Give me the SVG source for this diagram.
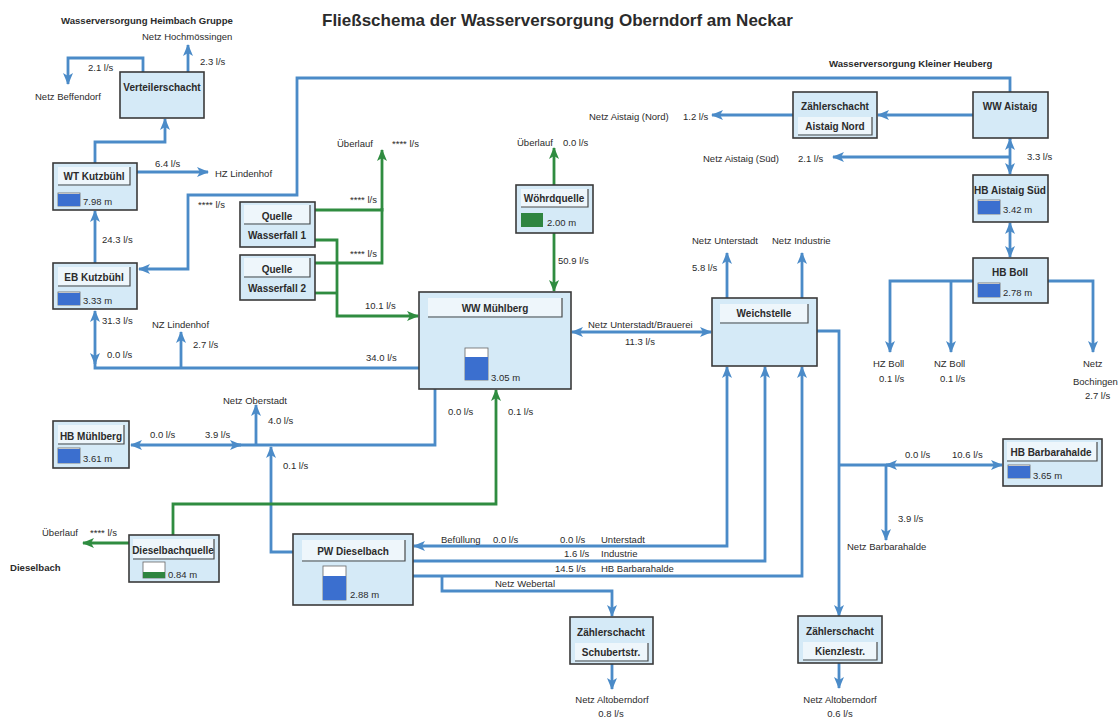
<svg xmlns="http://www.w3.org/2000/svg" width="1120" height="724" viewBox="0 0 1120 724">
<defs>
<marker id="ab" viewBox="0 0 12 10" refX="11" refY="5" markerWidth="12" markerHeight="10" markerUnits="userSpaceOnUse" orient="auto-start-reverse"><path d="M0,0 L12,5 L0,10 L3,5 z" fill="#4b8bc8"/></marker>
<marker id="ag" viewBox="0 0 12 10" refX="11" refY="5" markerWidth="12" markerHeight="10" markerUnits="userSpaceOnUse" orient="auto-start-reverse"><path d="M0,0 L12,5 L0,10 L3,5 z" fill="#2f8c40"/></marker>
</defs>
<style>
text{font-family:"Liberation Sans",Arial,sans-serif;fill:#2b2b2b}
.t{font-size:17px;font-weight:bold}
.h{font-size:9.6px;font-weight:bold}
.l{font-size:9.5px}
.n{font-size:10px;font-weight:bold}
.c{text-anchor:middle}
.box{fill:#d5eaf7;stroke:#3a3a3a;stroke-width:1.6}
.bar{fill:#eef6fb}
.edge{fill:none;stroke:#4a4a4a;stroke-width:1.2}
.lvb{fill:#3b6fcf}
.lvg{fill:#2f8540}
.tank{fill:#ffffff;stroke:#666;stroke-width:0.8}
.b{fill:none;stroke:#4b8bc8;stroke-width:2.8}
.g{fill:none;stroke:#2f8c40;stroke-width:2.8}
.be{marker-end:url(#ab)}
.bs{marker-start:url(#ab)}
.ge{marker-end:url(#ag)}
</style>
<rect width="1120" height="724" fill="#ffffff"/>
<text class="t" x="322" y="26">Fließschema der Wasserversorgung Oberndorf am Neckar</text>

<g id="connectors">
<path class="b be" d="M188,72 V45"/>
<path class="b be" d="M143,72 V58 H68 V84"/>
<path class="b be" d="M95,163 V142 H165 V119"/>
<path class="b be" d="M137,172 H208"/>
<path class="b be" d="M95,263 V211"/>
<path class="b be" d="M1010,92 V78 H297 V195 H188 V269 H139"/>
<path class="b be bs" d="M95,311 V364"/>
<path class="b" d="M95,360 V368 H419"/>
<path class="b be" d="M181,368 V332"/>
<path class="b be bs" d="M131,445 H241"/>
<path class="b" d="M236,445 H435 V389"/>
<path class="b be" d="M256,445 V405"/>
<path class="b be" d="M293,552 H271 V447"/>
<path class="b be bs" d="M572,332 H711"/>
<path class="b be" d="M727,298 V253"/>
<path class="b be" d="M802,298 V253"/>
<path class="b be" d="M817,331 H839 V616"/>
<path class="b" d="M839,465 H890"/>
<path class="b be bs" d="M886,465 H1002"/>
<path class="b be" d="M886,465 V540"/>
<path class="b be bs" d="M727,367 V546 H414"/>
<path class="b be" d="M413,561 H765 V367"/>
<path class="b be" d="M413,576 H802 V367"/>
<path class="b be" d="M442,576 V591 H612 V616"/>
<path class="b be" d="M612,664 V689"/>
<path class="b be" d="M839,663 V688"/>
<path class="b be" d="M1010,115 H878"/>
<path class="b" d="M1010,115 V140"/>
<path class="b be bs" d="M1010,139 V174"/>
<path class="b be" d="M1010,157 H833"/>
<path class="b be" d="M793,115 H712"/>
<path class="b be bs" d="M1010,223 V257"/>
<path class="b be" d="M973,281 H890 V352"/>
<path class="b be" d="M951,281 V352"/>
<path class="b be" d="M1048,281 H1093 V352"/>
<path class="g ge" d="M315,210 H382 V150"/>
<path class="g" d="M315,263 H382 V208"/>
<path class="g ge" d="M315,240 H337 V316 H418"/>
<path class="g" d="M315,293 H337"/>
<path class="g ge" d="M554,185 V148"/>
<path class="g ge" d="M554,233 V291"/>
<path class="g ge" d="M173,535 V504 H496 V390"/>
<path class="g ge" d="M129,543 H83"/>
</g>

<g id="n-verteilerschacht">
<rect class="box" x="120" y="72" width="84" height="46"/>
<text class="n c" x="162" y="91">Verteilerschacht</text>
</g>
<g id="n-wt-kutzbuehl">
<rect class="box" x="53" y="163" width="84" height="47"/>
<rect class="bar" x="58" y="167" width="72" height="17"/>
<path class="edge" d="M58,185 H130 V167"/>
<text class="n c" x="94" y="180">WT Kutzbühl</text>
<rect class="tank" x="58" y="193" width="22" height="13"/>
<rect class="lvb" x="58" y="194" width="22" height="12"/>
<text class="l" x="83" y="205">7.98 m</text>
</g>
<g id="n-eb-kutzbuehl">
<rect class="box" x="53" y="263" width="84" height="46"/>
<rect class="bar" x="58" y="267" width="72" height="18"/>
<path class="edge" d="M58,286 H130 V267"/>
<text class="n c" x="94" y="281">EB Kutzbühl</text>
<rect class="tank" x="58" y="292" width="22" height="13"/>
<rect class="lvb" x="58" y="293" width="22" height="12"/>
<text class="l" x="83" y="304">3.33 m</text>
</g>
<g id="n-quelle-wasserfall-1">
<rect class="box" x="240" y="202" width="75" height="45"/>
<rect class="bar" x="244" y="205" width="66" height="18"/>
<path class="edge" d="M244,224 H310 V205"/>
<text class="n c" x="277" y="220">Quelle</text>
<text class="n c" x="277" y="239">Wasserfall 1</text>
</g>
<g id="n-quelle-wasserfall-2">
<rect class="box" x="240" y="255" width="75" height="45"/>
<rect class="bar" x="244" y="258" width="66" height="18"/>
<path class="edge" d="M244,277 H310 V258"/>
<text class="n c" x="277" y="273">Quelle</text>
<text class="n c" x="277" y="292">Wasserfall 2</text>
</g>
<g id="n-woehrdquelle">
<rect class="box" x="516" y="185" width="77" height="48"/>
<rect class="bar" x="521" y="189" width="67" height="18"/>
<path class="edge" d="M521,207 H588 V189"/>
<text class="n c" x="554" y="202">Wöhrdquelle</text>
<rect class="lvg" x="521" y="213" width="22" height="14"/>
<text class="l" x="547" y="226">2.00 m</text>
</g>
<g id="n-ww-muehlberg">
<rect class="box" x="419" y="292" width="152" height="97"/>
<rect class="bar" x="428" y="298" width="134" height="18"/>
<path class="edge" d="M428,317 H562 V298"/>
<text class="n c" x="495" y="312">WW Mühlberg</text>
<rect class="tank" x="465" y="348" width="23" height="32"/>
<rect class="lvb" x="465" y="357" width="23" height="23"/>
<text class="l" x="491" y="381">3.05 m</text>
</g>
<g id="n-weichstelle">
<rect class="box" x="712" y="298" width="105" height="68"/>
<rect class="bar" x="720" y="304" width="88" height="18"/>
<path class="edge" d="M720,323 H808 V304"/>
<text class="n c" x="764" y="317">Weichstelle</text>
</g>
<g id="n-pw-dieselbach">
<rect class="box" x="293" y="534" width="120" height="71"/>
<rect class="bar" x="302" y="540" width="103" height="20"/>
<path class="edge" d="M302,561 H405 V540"/>
<text class="n c" x="353" y="555">PW Dieselbach</text>
<rect class="tank" x="323" y="566" width="23" height="34"/>
<rect class="lvb" x="323" y="576" width="23" height="24"/>
<text class="l" x="350" y="598">2.88 m</text>
</g>
<g id="n-hb-muehlberg">
<rect class="box" x="53" y="421" width="76" height="47"/>
<rect class="bar" x="58" y="425" width="66" height="18"/>
<path class="edge" d="M58,444 H124 V425"/>
<text class="n c" x="91" y="440">HB Mühlberg</text>
<rect class="tank" x="58" y="448" width="22" height="15"/>
<rect class="lvb" x="58" y="449" width="22" height="14"/>
<text class="l" x="83" y="462">3.61 m</text>
</g>
<g id="n-dieselbachquelle">
<rect class="box" x="129" y="535" width="90" height="47"/>
<rect class="bar" x="133" y="539" width="81" height="19"/>
<path class="edge" d="M133,559 H214 V539"/>
<text class="n c" x="173" y="554">Dieselbachquelle</text>
<rect class="tank" x="143" y="562" width="22" height="16"/>
<rect class="lvg" x="143" y="572" width="22" height="6"/>
<text class="l" x="168" y="578">0.84 m</text>
</g>
<g id="n-zs-schubertstr">
<rect class="box" x="570" y="617" width="83" height="47"/>
<text class="n c" x="611" y="636">Zählerschacht</text>
<rect class="bar" x="575" y="643" width="73" height="17"/>
<path class="edge" d="M575,661 H648 V643"/>
<text class="n c" x="611" y="656">Schubertstr.</text>
</g>
<g id="n-zs-kienzlestr">
<rect class="box" x="798" y="616" width="84" height="47"/>
<text class="n c" x="840" y="635">Zählerschacht</text>
<rect class="bar" x="803" y="642" width="74" height="17"/>
<path class="edge" d="M803,660 H877 V642"/>
<text class="n c" x="840" y="655">Kienzlestr.</text>
</g>
<g id="n-zs-aistaig-nord">
<rect class="box" x="793" y="92" width="84" height="46"/>
<text class="n c" x="835" y="110">Zählerschacht</text>
<rect class="bar" x="798" y="117" width="74" height="17"/>
<path class="edge" d="M798,135 H872 V117"/>
<text class="n c" x="835" y="130">Aistaig Nord</text>
</g>
<g id="n-ww-aistaig">
<rect class="box" x="973" y="92" width="75" height="46"/>
<text class="n c" x="1010" y="110">WW Aistaig</text>
</g>
<g id="n-hb-aistaig-sued">
<rect class="box" x="973" y="175" width="75" height="47"/>
<text class="n c" x="1010" y="194">HB Aistaig Süd</text>
<rect class="tank" x="978" y="200" width="22" height="14"/>
<rect class="lvb" x="978" y="201" width="22" height="13"/>
<text class="l" x="1003" y="213">3.42 m</text>
</g>
<g id="n-hb-boll">
<rect class="box" x="973" y="258" width="75" height="45"/>
<text class="n c" x="1010" y="276">HB Boll</text>
<rect class="tank" x="978" y="283" width="22" height="14"/>
<rect class="lvb" x="978" y="284" width="22" height="13"/>
<text class="l" x="1003" y="296">2.78 m</text>
</g>
<g id="n-hb-barbarahalde">
<rect class="box" x="1003" y="439" width="99" height="47"/>
<rect class="bar" x="1007" y="442" width="90" height="18"/>
<path class="edge" d="M1007,461 H1097 V442"/>
<text class="n c" x="1051" y="456">HB Barbarahalde</text>
<rect class="tank" x="1008" y="465" width="22" height="13"/>
<rect class="lvb" x="1008" y="466" width="22" height="12"/>
<text class="l" x="1033" y="479">3.65 m</text>
</g>

<g id="labels">
<text class="h" x="61" y="24">Wasserversorgung Heimbach Gruppe</text>
<text class="l" x="142" y="40">Netz Hochmössingen</text>
<text class="l" x="200" y="65">2.3 l/s</text>
<text class="l" x="88" y="71">2.1 l/s</text>
<text class="l" x="35" y="100">Netz Beffendorf</text>
<text class="l" x="155" y="167">6.4 l/s</text>
<text class="l" x="215" y="177">HZ Lindenhof</text>
<text class="l" x="198" y="208">**** l/s</text>
<text class="l" x="102" y="243">24.3 l/s</text>
<text class="l" x="102" y="324">31.3 l/s</text>
<text class="l" x="107" y="358">0.0 l/s</text>
<text class="l" x="152" y="328">NZ Lindenhof</text>
<text class="l" x="193" y="348">2.7 l/s</text>
<text class="l" x="366" y="361">34.0 l/s</text>
<text class="l" x="337" y="147">Überlauf</text>
<text class="l" x="392" y="147">**** l/s</text>
<text class="l" x="350" y="203">**** l/s</text>
<text class="l" x="350" y="257">**** l/s</text>
<text class="l" x="365" y="309">10.1 l/s</text>
<text class="l" x="517" y="146">Überlauf</text>
<text class="l" x="563" y="146">0.0 l/s</text>
<text class="l" x="558" y="264">50.9 l/s</text>
<text class="l" x="588" y="328">Netz Unterstadt/Brauerei</text>
<text class="l" x="625" y="345">11.3 l/s</text>
<text class="l" x="589" y="120">Netz Aistaig (Nord)</text>
<text class="l" x="683" y="120">1.2 l/s</text>
<text class="l" x="703" y="162">Netz Aistaig (Süd)</text>
<text class="l" x="798" y="162">2.1 l/s</text>
<text class="l" x="692" y="244">Netz Unterstadt</text>
<text class="l" x="772" y="244">Netz Industrie</text>
<text class="l" x="692" y="271">5.8 l/s</text>
<text class="h" x="829" y="67">Wasserversorgung Kleiner Heuberg</text>
<text class="l" x="1027" y="160">3.3 l/s</text>
<text class="l" x="873" y="367">HZ Boll</text>
<text class="l" x="879" y="382">0.1 l/s</text>
<text class="l" x="934" y="367">NZ Boll</text>
<text class="l" x="940" y="382">0.1 l/s</text>
<text class="l" x="1083" y="367">Netz</text>
<text class="l" x="1073" y="385">Bochingen</text>
<text class="l" x="1085" y="399">2.7 l/s</text>
<text class="l" x="905" y="458">0.0 l/s</text>
<text class="l" x="952" y="458">10.6 l/s</text>
<text class="l" x="898" y="522">3.9 l/s</text>
<text class="l" x="847" y="550">Netz Barbarahalde</text>
<text class="l" x="223" y="404">Netz Oberstadt</text>
<text class="l" x="268" y="424">4.0 l/s</text>
<text class="l" x="150" y="438">0.0 l/s</text>
<text class="l" x="205" y="438">3.9 l/s</text>
<text class="l" x="283" y="469">0.1 l/s</text>
<text class="l" x="448" y="415">0.0 l/s</text>
<text class="l" x="508" y="415">0.1 l/s</text>
<text class="l" x="42" y="536">Überlauf</text>
<text class="l" x="90" y="536">**** l/s</text>
<text class="h" x="10" y="571">Dieselbach</text>
<text class="l" x="441" y="543">Befüllung</text>
<text class="l" x="493" y="543">0.0 l/s</text>
<text class="l" x="560" y="543">0.0 l/s</text>
<text class="l" x="601" y="543">Unterstadt</text>
<text class="l" x="564" y="557">1.6 l/s</text>
<text class="l" x="601" y="557">Industrie</text>
<text class="l" x="555" y="572">14.5 l/s</text>
<text class="l" x="601" y="572">HB Barbarahalde</text>
<text class="l" x="495" y="587">Netz Webertal</text>
<text class="l c" x="612" y="703">Netz Altoberndorf</text>
<text class="l c" x="611" y="717">0.8 l/s</text>
<text class="l c" x="840" y="703">Netz Altoberndorf</text>
<text class="l c" x="840" y="717">0.6 l/s</text>
</g>
</svg>
